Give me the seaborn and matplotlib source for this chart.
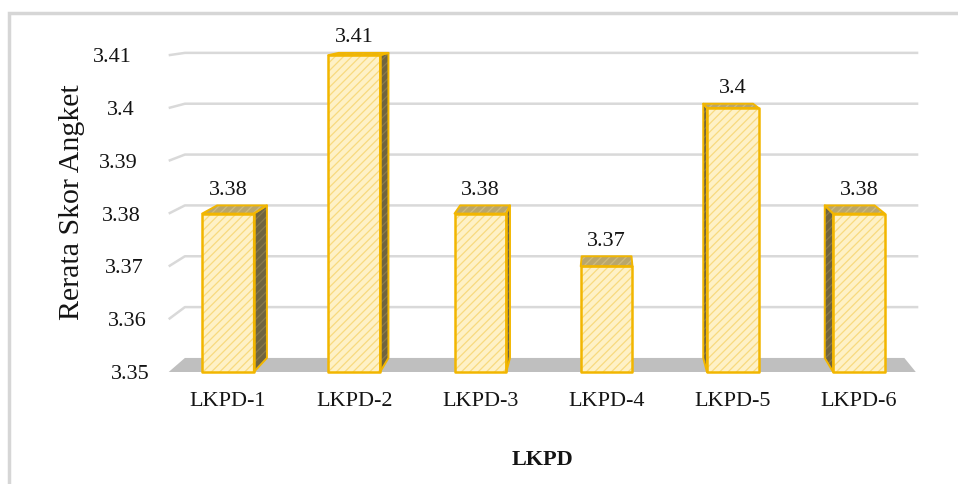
import matplotlib
matplotlib.use("Agg")
import matplotlib.pyplot as plt
from matplotlib.patches import Rectangle, Polygon
import seaborn as sns
import pandas as pd

# ---- data -------------------------------------------------------------
categories = ["LKPD-1", "LKPD-2", "LKPD-3", "LKPD-4", "LKPD-5", "LKPD-6"]
scores = [3.38, 3.41, 3.38, 3.37, 3.40, 3.38]
y_ticks = [3.35, 3.36, 3.37, 3.38, 3.39, 3.40, 3.41]
y_tick_labels = ["3.35", "3.36", "3.37", "3.38", "3.39", "3.4", "3.41"]
x_title = "LKPD"
y_title = "Rerata Skor Angket"

BASE = 3.35            # value axis starts here (floor of the chart)

# ---- pseudo-3D view settings (vanishing point in data units) -----------
DEPTH = 0.037          # how far the back plane recedes toward the vanishing point
VX, VY = 3.0, 3.4219
WALL_L, WALL_R = -0.47, 5.45

FRONT = "#FEF1C6"
FRONT_HATCH = "#F8DA7E"
EDGE = "#F2B600"
SIDE = "#6F6440"
SIDE_HATCH = "#887A4E"
TOP = "#B9A66C"
TOP_HATCH = "#CDBB80"
FLOOR = "#BFBFBF"
GRID = "#D9D9D9"
TEXT = "#141414"


def back(x, y):
    """Project a front-plane point onto the back plane."""
    return x + DEPTH * (VX - x), y + DEPTH * (VY - y)


W, H, DPI = 958, 484, 100
sns.set_theme(style="white")
plt.rcParams["font.family"] = ["Liberation Serif", "DejaVu Serif"]
plt.rcParams["hatch.linewidth"] = 0.9

fig = plt.figure(figsize=(W / DPI, H / DPI), dpi=DPI)
fig.patch.set_facecolor("white")
ax_l, ax_r, ax_t, ax_b = 160, 925, 20, 385
ax = fig.add_axes([ax_l / W, 1 - ax_b / H, (ax_r - ax_l) / W, (ax_b - ax_t) / H])

df = pd.DataFrame({"LKPD": categories,
                   "rise": [s - BASE for s in scores]})

# front faces of the columns
sns.barplot(data=df, x="LKPD", y="rise", bottom=BASE, width=0.41,
            color=FRONT, saturation=1, edgecolor=FRONT_HATCH, linewidth=0,
            hatch="////", zorder=3, errorbar=None, ax=ax)

ax.set_xlim((ax_l - 228) / 126.2, (ax_r - 228) / 126.2)
ax.set_ylim(BASE - 13 / 5280, BASE + 352 / 5280)

# floor
fl = [(WALL_L, BASE), (WALL_R, BASE), back(WALL_R, BASE), back(WALL_L, BASE)]
ax.add_patch(Polygon(fl, closed=True, facecolor=FLOOR, edgecolor="none", zorder=1))

# gridlines on the side and back walls
for v in y_ticks[1:]:
    bx, by = back(WALL_L, v)
    ax.plot([WALL_L, bx, WALL_R + 0.02], [v, by, by], color=GRID, lw=1.8,
            zorder=0.5, solid_capstyle="butt")

# top and side faces, outlines, value labels
for p, val in zip(ax.patches[:len(scores)], scores):
    x0 = p.get_x()
    x1 = x0 + p.get_width()
    top = p.get_y() + p.get_height()
    bot = p.get_y()

    top_face = [(x0, top), (x1, top), back(x1, top), back(x0, top)]
    ax.add_patch(Polygon(top_face, closed=True, facecolor=TOP,
                         edgecolor=TOP_HATCH, hatch="////", lw=0, zorder=2))
    ax.add_patch(Polygon(top_face, closed=True, fill=False,
                         edgecolor=EDGE, lw=1.4, zorder=4, joinstyle="round"))

    side = None
    if x1 < VX:
        side = [(x1, bot), (x1, top), back(x1, top), back(x1, bot)]
    elif x0 > VX:
        side = [(x0, bot), (x0, top), back(x0, top), back(x0, bot)]
    if side is not None:
        ax.add_patch(Polygon(side, closed=True, facecolor=SIDE,
                             edgecolor=SIDE_HATCH, hatch="////", lw=0, zorder=2))
        ax.add_patch(Polygon(side, closed=True, fill=False,
                             edgecolor=EDGE, lw=1.4, zorder=4, joinstyle="round"))

    ax.add_patch(Rectangle((x0, bot), x1 - x0, top - bot, fill=False,
                           edgecolor=EDGE, lw=1.8, zorder=5, joinstyle="round"))

    _, ty = back((x0 + x1) / 2, top)
    ax.annotate(f"{val:g}", ((x0 + x1) / 2, ty), xytext=(0, 4),
                textcoords="offset points", ha="center", va="bottom",
                fontsize=16, color=TEXT, zorder=6)

# axes text
ax.set_yticks(y_ticks, y_tick_labels)
ax.tick_params(axis="both", length=0, labelsize=16, labelcolor=TEXT)
ax.tick_params(axis="x", pad=5)
ax.set_xlabel(x_title, fontsize=16, fontweight="bold", color=TEXT, labelpad=28)
ax.set_ylabel(y_title, fontsize=21.5, color=TEXT)
ax.yaxis.set_label_coords(-0.098, 0.5)
for s in ax.spines.values():
    s.set_visible(False)
ax.grid(False)

# tick labels follow the slanted front edge of the side wall
for t, v in zip(ax.yaxis.get_major_ticks(), y_ticks):
    t.set_pad((10 + (v - BASE) / 0.06 * 18) / 1.389)

# chart-area border
fig.add_artist(Rectangle((9 / W, -0.5), 2.0, 1 - 13 / H + 0.5,
                         transform=fig.transFigure, fill=False,
                         edgecolor="#D6D6D6", lw=2.5))

fig.savefig("out.png", dpi=DPI)
